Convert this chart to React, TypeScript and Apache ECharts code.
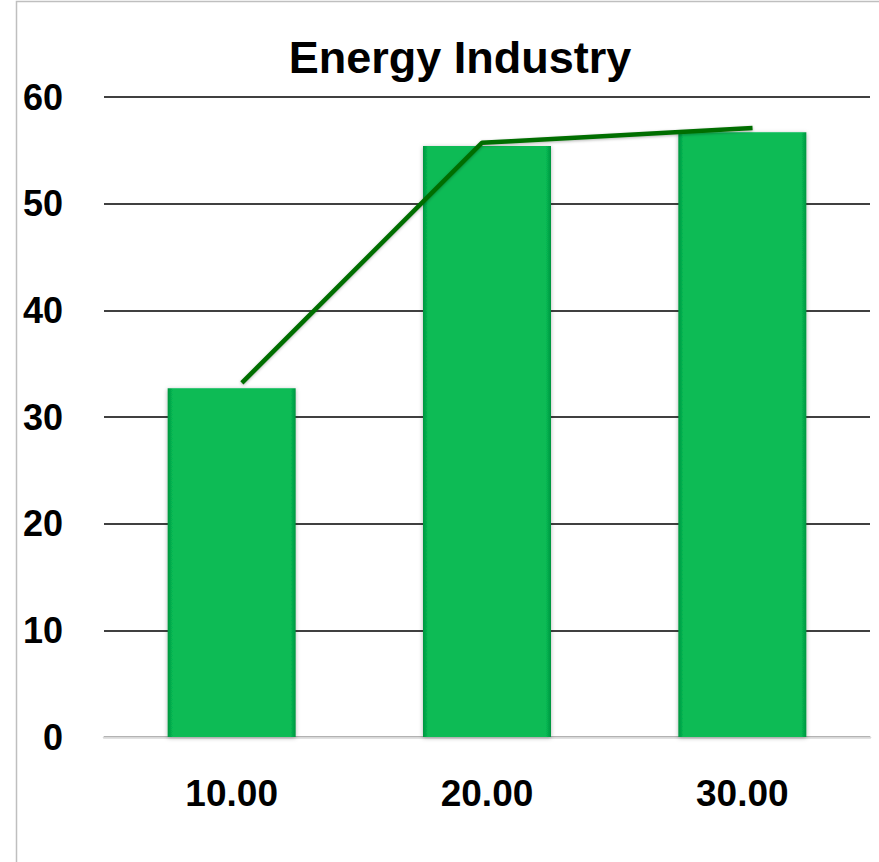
import React, { useEffect, useRef } from "react";
import * as echarts from "echarts";

const categories = ["10.00", "20.00", "30.00"];
const barValues = [32.7, 55.4, 56.7];
const lineX = [10.4, 19.8, 30.4];
const lineY = [33.2, 55.7, 57.1];
const yTicks = { min: 0, max: 60, interval: 10 };

export default function App() {
  const ref = useRef<HTMLDivElement>(null);
  useEffect(() => {
    document.body.style.margin = "0";
    const chart = echarts.init(ref.current!, null, { renderer: "svg" });
    const font = "'Liberation Sans', Arial, sans-serif";
    chart.setOption({
      animation: false,
      backgroundColor: "#ffffff",
      title: {
        text: "Energy Industry",
        left: 455,
        top: 30,
        textAlign: "center",
        textStyle: { fontFamily: font, fontWeight: "bold", fontSize: 45, color: "#000" },
      },
      graphic: [
        {
          type: "rect",
          shape: { x: 16.5, y: 1.5, width: 1000, height: 1000 },
          style: { fill: "none", stroke: "#bfbfbf", lineWidth: 1.5 },
          silent: true,
          z: -1,
        },
      ],
      grid: { left: 104, right: 9, top: 97, bottom: 125 },
      xAxis: [
        {
          type: "category",
          data: categories,
          axisLine: { show: true, lineStyle: { color: "#d9d9d9", width: 2.5 } },
          axisTick: { show: false },
          axisLabel: { fontFamily: font, fontWeight: "bold", fontSize: 37, color: "#000", margin: 38 },
        },
        { type: "value", min: 5, max: 35, show: false },
      ],
      yAxis: {
        type: "value",
        min: yTicks.min,
        max: yTicks.max,
        interval: yTicks.interval,
        axisLine: { show: false },
        axisTick: { show: false },
        splitLine: { lineStyle: { color: "#000", width: 1.5 } },
        axisLabel: { fontFamily: font, fontWeight: "bold", fontSize: 36, color: "#000", margin: 41 },
      },
      series: [
        {
          type: "bar",
          data: barValues,
          barWidth: 128,
          z: 2,
          itemStyle: {
            color: new echarts.graphic.LinearGradient(0, 0, 1, 0, [
              { offset: 0, color: "#05953f" },
              { offset: 0.04, color: "#07bb55" },
              { offset: 0.96, color: "#07bb55" },
              { offset: 1, color: "#05953f" },
            ]),
            borderColor: "rgba(60,225,140,0.9)",
            borderWidth: 0,
            shadowBlur: 4,
            shadowColor: "rgba(0,0,0,0.3)",
            shadowOffsetY: 1,
          },
        },
        {
          type: "line",
          xAxisIndex: 1,
          data: lineX.map((x, i) => [x, lineY[i]]),
          showSymbol: false,
          symbol: "none",
          z: 3,
          lineStyle: {
            color: "#006e00",
            width: 4.5,
            shadowBlur: 3,
            shadowColor: "rgba(0,0,0,0.3)",
            shadowOffsetY: 1,
          },
        },
      ],
    });
    return () => chart.dispose();
  }, []);
  return <div ref={ref} style={{ width: 879, height: 862 }} />;
}
